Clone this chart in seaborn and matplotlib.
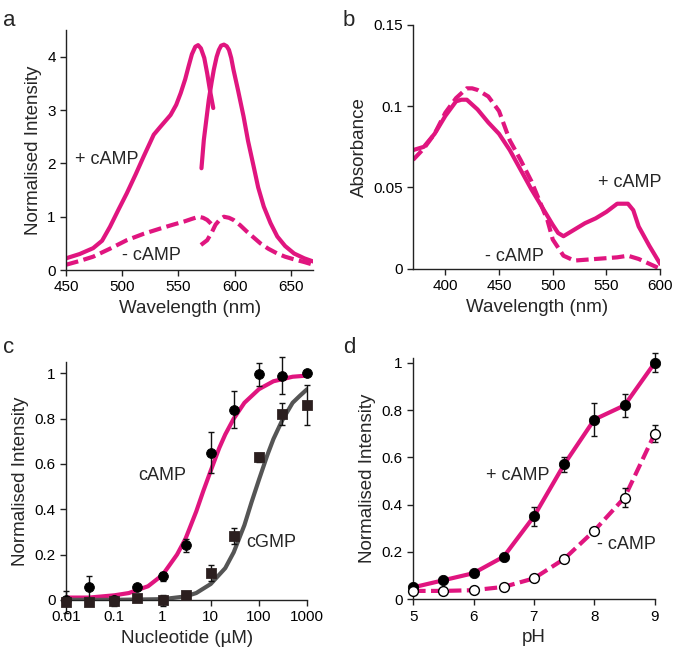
import numpy as np
import pandas as pd
import seaborn as sns
import matplotlib.pyplot as plt
from matplotlib.ticker import FixedLocator, FuncFormatter

# ---- panel a: excitation / emission spectra ----
exc_nm = [450, 462, 474, 482, 489, 497, 504, 512, 519, 528, 534, 543, 548, 552, 556, 559, 562,
          565, 567.5, 570, 573, 575.6, 578, 581]
exc_plus = [0.22, 0.30, 0.41, 0.55, 0.81, 1.15, 1.44, 1.80, 2.13, 2.54, 2.69, 2.91, 3.10, 3.32,
            3.58, 3.82, 4.05, 4.19, 4.22, 4.16, 3.98, 3.69, 3.38, 3.04]
em_nm = [570.5, 572.6, 575, 577, 579.5, 581.5, 584, 586, 588, 590.5, 593, 595, 597, 599, 603,
         608, 612, 617, 621, 626, 632, 638, 645, 653, 662, 670]
em_plus = [1.91, 2.44, 2.85, 3.19, 3.52, 3.76, 4.00, 4.13, 4.21, 4.23, 4.20, 4.13, 3.98, 3.76,
           3.38, 2.88, 2.42, 1.94, 1.55, 1.19, 0.88, 0.63, 0.45, 0.31, 0.22, 0.16]
exc_nm_minus = [450, 462, 474, 489, 504, 519, 534, 545, 555, 562, 568, 572, 575.6, 579, 581.5]
exc_minus = [0.10, 0.17, 0.25, 0.40, 0.56, 0.68, 0.78, 0.85, 0.91, 0.96, 1.00, 0.98, 0.94, 0.87, 0.81]
em_nm_minus = [570, 575.6, 580, 583, 587, 590.5, 595, 599, 605, 611, 617, 623, 630, 638, 645,
               653, 662, 670]
em_minus = [0.47, 0.56, 0.72, 0.85, 0.95, 1.00, 0.98, 0.94, 0.84, 0.72, 0.61, 0.50, 0.40, 0.31,
            0.25, 0.20, 0.15, 0.10]

# ---- panel b: absorbance ----
abs_nm = [370, 380, 390, 400, 410, 415, 420, 430, 440, 450, 460, 470, 480, 490, 500,
          505, 510, 520, 530, 540, 550, 560, 570, 575, 580, 590, 600]
abs_plus = [0.073, 0.075, 0.083, 0.094, 0.103, 0.104, 0.104, 0.098, 0.090, 0.083, 0.073, 0.061,
            0.049, 0.038, 0.027, 0.022, 0.020, 0.024, 0.028, 0.031, 0.035, 0.040, 0.040, 0.036,
            0.026, 0.014, 0.003]
abs_nm_minus = [370, 380, 390, 400, 410, 420, 425, 430, 440, 450, 460, 470, 480, 490, 495,
                500, 510, 520, 540, 560, 570, 580, 590, 600]
abs_minus = [0.067, 0.074, 0.083, 0.096, 0.105, 0.111, 0.111, 0.110, 0.106, 0.097, 0.079, 0.067,
             0.054, 0.038, 0.030, 0.018, 0.008, 0.005, 0.006, 0.007, 0.008, 0.006, 0.003, 0.000]

# ---- panel c: dose response ----
conc = [0.01, 0.03, 0.1, 0.3, 1, 3, 10, 30, 100, 300, 1000]
camp = [0.00, 0.055, 0.00, 0.056, 0.105, 0.24, 0.65, 0.84, 0.995, 0.99, 1.00]
camp_err = [0.0, 0.05, 0.0, 0.01, 0.02, 0.03, 0.09, 0.08, 0.05, 0.08, 0.01]
cgmp = [-0.01, -0.01, -0.005, 0.007, -0.002, 0.02, 0.12, 0.28, 0.63, 0.82, 0.86]
cgmp_err = [0.05, 0.01, 0.02, 0.01, 0.025, 0.01, 0.035, 0.035, 0.02, 0.05, 0.09]
fit_x = [0.01, 0.03, 0.1, 0.2, 0.5, 1, 2, 3, 5, 7, 10, 15, 20, 30, 50, 100, 200, 500, 1000]
fit_camp = [0.01, 0.01, 0.02, 0.03, 0.06, 0.11, 0.20, 0.27, 0.39, 0.48, 0.57, 0.67, 0.73, 0.80,
            0.87, 0.93, 0.965, 0.985, 0.99]
fit_x2 = [0.01, 0.1, 1, 3, 5, 10, 20, 30, 50, 70, 100, 150, 200, 300, 500, 700, 1000]
fit_cgmp = [0.0, 0.0, 0.003, 0.015, 0.03, 0.07, 0.14, 0.21, 0.33, 0.43, 0.53, 0.64, 0.71, 0.79,
            0.87, 0.90, 0.93]

# ---- panel d: pH ----
ph = [5, 5.5, 6, 6.5, 7, 7.5, 8, 8.5, 9]
ph_plus = [0.05, 0.08, 0.11, 0.18, 0.35, 0.57, 0.76, 0.82, 1.00]
ph_plus_err = [0.01, 0.01, 0.01, 0.01, 0.04, 0.03, 0.07, 0.05, 0.04]
ph_minus = [0.035, 0.035, 0.038, 0.052, 0.088, 0.17, 0.29, 0.43, 0.70]
ph_minus_err = [0.005, 0.005, 0.005, 0.005, 0.005, 0.01, 0.01, 0.04, 0.035]

MAG = "#e0157f"
GREY = "#555555"
DASH = (3, 1.3)
LW = 3.0

sns.set_theme(style="ticks")
plt.rcParams["font.family"] = ["Liberation Sans", "DejaVu Sans"]
plt.rcParams["axes.linewidth"] = 1.0
plt.rcParams["axes.edgecolor"] = "#222222"
plt.rcParams["xtick.labelsize"] = 11
plt.rcParams["ytick.labelsize"] = 11

fig = plt.figure(figsize=(6.75, 6.57), dpi=100)
ax_a = fig.add_axes([0.098, 0.589, 0.366, 0.365])
ax_b = fig.add_axes([0.612, 0.591, 0.366, 0.371])
ax_c = fig.add_axes([0.098, 0.087, 0.357, 0.362])
ax_d = fig.add_axes([0.612, 0.088, 0.358, 0.367])

gfmt = FuncFormatter(lambda v, p: f"{v:g}")
LS = 13.5  # axis label size
TS = 13    # annotation size

# a
for x, y, dashed in [(exc_nm, exc_plus, False), (em_nm, em_plus, False),
                     (exc_nm_minus, exc_minus, True), (em_nm_minus, em_minus, True)]:
    sns.lineplot(x=x, y=y, ax=ax_a, color=MAG, lw=LW, sort=False)
    if dashed:
        ax_a.lines[-1].set_dashes(DASH)
ax_a.set_xlim(450, 670)
ax_a.set_ylim(0, 4.5)
ax_a.set_xticks([450, 500, 550, 600, 650])
ax_a.set_yticks([0, 1, 2, 3, 4])
ax_a.set_xlabel("Wavelength (nm)", fontsize=LS)
ax_a.set_ylabel("Normalised Intensity", fontsize=LS)
ax_a.text(458, 2.08, "+ cAMP", fontsize=TS, va="center")
ax_a.text(500, 0.27, "- cAMP", fontsize=TS, va="center")

# b
sns.lineplot(x=abs_nm, y=abs_plus, ax=ax_b, color=MAG, lw=LW)
sns.lineplot(x=abs_nm_minus, y=abs_minus, ax=ax_b, color=MAG, lw=LW)
ax_b.lines[-1].set_dashes(DASH)
ax_b.set_xlim(370, 600)
ax_b.set_ylim(0, 0.15)
ax_b.set_xticks([400, 450, 500, 550, 600])
ax_b.set_yticks([0, 0.05, 0.1, 0.15])
ax_b.yaxis.set_major_formatter(gfmt)
ax_b.set_xlabel("Wavelength (nm)", fontsize=LS)
ax_b.set_ylabel("Absorbance", fontsize=LS)
ax_b.text(542, 0.053, "+ cAMP", fontsize=TS, va="center")
ax_b.text(437, 0.0075, "- cAMP", fontsize=TS, va="center")

# c
ax_c.set_xscale("log")
sns.lineplot(x=fit_x, y=fit_camp, ax=ax_c, color=MAG, lw=LW)
sns.lineplot(x=fit_x2, y=fit_cgmp, ax=ax_c, color=GREY, lw=LW)
ax_c.errorbar(conc, cgmp, yerr=cgmp_err, fmt="none", ecolor="#111111", elinewidth=1,
              capsize=2.5, clip_on=False, zorder=3)
ax_c.errorbar(conc, camp, yerr=camp_err, fmt="none", ecolor="#111111", elinewidth=1,
              capsize=2.5, clip_on=False, zorder=3)
sns.scatterplot(x=conc, y=camp, ax=ax_c, marker="o", s=50, color="black", edgecolor="black",
                zorder=4, clip_on=False)
sns.scatterplot(x=conc, y=cgmp, ax=ax_c, marker="s", s=48, color="#2b1f1f", edgecolor="#2b1f1f",
                zorder=5, clip_on=False)
ax_c.set_xlim(0.01, 1000)
ax_c.set_ylim(0, 1.05)
ax_c.xaxis.set_major_locator(FixedLocator([0.01, 0.1, 1, 10, 100, 1000]))
ax_c.xaxis.set_minor_locator(FixedLocator([]))
ax_c.xaxis.set_major_formatter(gfmt)
ax_c.set_yticks([0, 0.2, 0.4, 0.6, 0.8, 1])
ax_c.yaxis.set_major_formatter(gfmt)
ax_c.set_xlabel("Nucleotide (\u00b5M)", fontsize=LS)
ax_c.set_ylabel("Normalised Intensity", fontsize=LS)
ax_c.text(0.31, 0.55, "cAMP", fontsize=TS, va="center")
ax_c.text(55, 0.255, "cGMP", fontsize=TS, va="center")

# d
sns.lineplot(x=ph, y=ph_plus, ax=ax_d, color=MAG, lw=LW)
sns.lineplot(x=ph, y=ph_minus, ax=ax_d, color=MAG, lw=LW)
ax_d.lines[-1].set_dashes(DASH)
ax_d.errorbar(ph, ph_plus, yerr=ph_plus_err, fmt="none", ecolor="#111111", elinewidth=1,
              capsize=2.5, clip_on=False, zorder=3)
ax_d.errorbar(ph, ph_minus, yerr=ph_minus_err, fmt="none", ecolor="#111111", elinewidth=1,
              capsize=2.5, clip_on=False, zorder=3)
sns.scatterplot(x=ph, y=ph_plus, ax=ax_d, marker="o", s=55, color="black", edgecolor="black",
                zorder=4, clip_on=False)
sns.scatterplot(x=ph, y=ph_minus, ax=ax_d, marker="o", s=50, color="white", edgecolor="black",
                linewidth=1, zorder=4, clip_on=False)
ax_d.set_xlim(5, 9)
ax_d.set_ylim(0, 1.02)
ax_d.set_xticks([5, 6, 7, 8, 9])
ax_d.set_yticks([0, 0.2, 0.4, 0.6, 0.8, 1])
ax_d.yaxis.set_major_formatter(gfmt)
ax_d.set_xlabel("pH", fontsize=LS)
ax_d.set_ylabel("Normalised Intensity", fontsize=LS)
ax_d.text(6.2, 0.525, "+ cAMP", fontsize=TS, va="center")
ax_d.text(8.05, 0.23, "- cAMP", fontsize=TS, va="center")

for ax in (ax_a, ax_b, ax_c, ax_d):
    sns.despine(ax=ax)
    ax.tick_params(length=4, width=1, colors="#222222", labelcolor="black")

for lbl, (x, y) in zip("abcd", [(0.004, 0.985), (0.508, 0.985), (0.004, 0.487), (0.508, 0.487)]):
    fig.text(x, y, lbl, fontsize=16, va="top", ha="left")

fig.savefig("out.png", dpi=100)
